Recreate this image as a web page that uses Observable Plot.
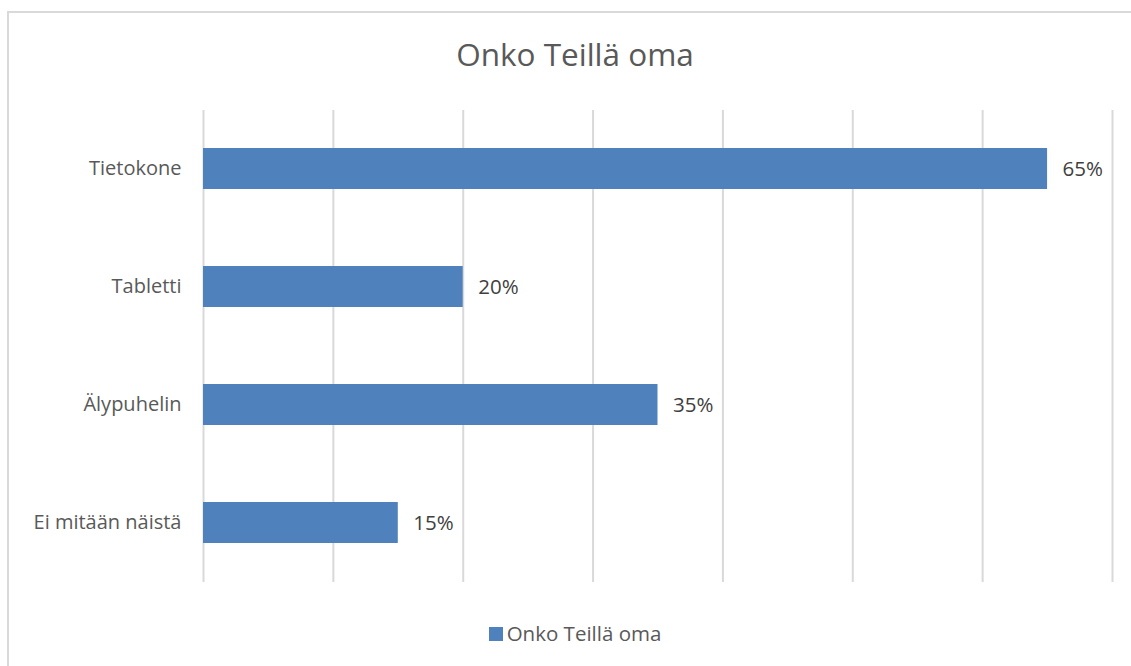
<!DOCTYPE html>
<html><head><meta charset="utf-8">
<script src="https://cdn.jsdelivr.net/npm/d3@7"></script>
<script src="https://cdn.jsdelivr.net/npm/@observablehq/plot@0.6"></script>
<style>
html,body{margin:0;padding:0;background:#fff;}
#wrap{position:relative;width:1131px;height:666px;overflow:hidden;font-family:"Open Sans",sans-serif;}
#frame{position:absolute;left:7px;top:11px;width:1140px;height:680px;border:2px solid #d9d9d9;box-sizing:border-box;}
#title{position:absolute;left:0;width:1150px;top:32px;text-align:center;font-size:31.5px;color:#595959;}
#chart{position:absolute;left:0;top:0;}
#legend{position:absolute;left:0;width:1150px;top:619px;text-align:center;font-size:20.5px;color:#595959;}
#legend span.sw{display:inline-block;width:14px;height:14px;background:#4f81bd;margin-right:4px;vertical-align:0px;}
</style></head>
<body>
<div id="wrap">
<div id="frame"></div>
<div id="title">Onko Teillä oma</div>
<div id="chart"></div>
<div id="legend"><span class="sw"></span>Onko Teillä oma</div>
</div>
<script>
const categories = ["Tietokone", "Tabletti", "Älypuhelin", "Ei mitään näistä"];
const values = [0.65, 0.20, 0.35, 0.15];
const gridTicks = [0, 0.1, 0.2, 0.3, 0.4, 0.5, 0.6, 0.7];
const data = categories.map((c, i) => ({category: c, value: values[i]}));

const chart = Plot.plot({
  width: 1131,
  height: 600,
  marginTop: 110,
  marginBottom: 18,
  marginLeft: 203,
  marginRight: 19,
  style: {fontFamily: "'Open Sans', sans-serif", fontSize: "20px", color: "#595959", background: "transparent"},
  x: {domain: [0, 0.7], axis: null},
  y: {domain: categories, paddingInner: 0.65, paddingOuter: 0.325, label: null},
  marks: [
    Plot.ruleX(gridTicks, {stroke: "#d9d9d9", strokeWidth: 2}),
    Plot.barX(data, {y: "category", x: "value", fill: "#4f81bd"}),
    Plot.text(data, {y: "category", x: "value", text: d => Math.round(d.value * 100) + "%", textAnchor: "start", dx: 15, fill: "#404040", fontSize: 20.5}),
    Plot.axisY({tickSize: 0, tickPadding: 22, fontSize: 20, label: null, fill: "#595959"})
  ]
});
document.getElementById("chart").appendChild(chart);
</script>
</body></html>
